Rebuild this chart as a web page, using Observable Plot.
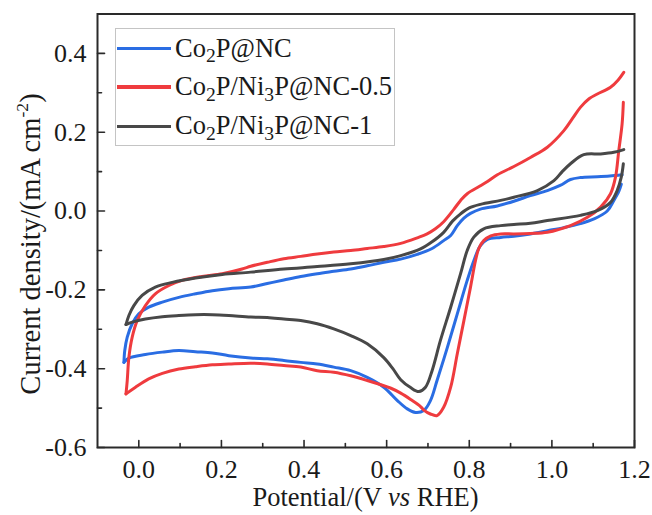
<!DOCTYPE html>
<html>
<head>
<meta charset="utf-8">
<script src="https://cdn.jsdelivr.net/npm/d3@7"></script>
<script src="https://cdn.jsdelivr.net/npm/@observablehq/plot@0.6"></script>
<style>
  body { margin: 0; background: #fff; }
  #wrap { position: relative; width: 652px; height: 515px; font-family: "Liberation Serif", "Times New Roman", serif; color: #1a1a1a; }
  #wrap svg { position: absolute; left: 0; top: 0; }
  .legend { position: absolute; left: 115px; top: 28px; width: 280px; height: 118px; border: 1px solid #c4c4c4; background: #fff; box-sizing: border-box; }
  .item { position: absolute; left: 0; height: 0; }
  .swatch { position: absolute; left: 1px; width: 54px; height: 3.5px; }
  .ltext { position: absolute; left: 59px; font-size: 26.5px; line-height: 1; white-space: nowrap; }
  .sb { font-size: 74%; position: relative; top: 0.3em; line-height: 0; }
  .xt { position: absolute; left: 97px; width: 537px; top: 488px; text-align: center; font-size: 26.5px; line-height: 18px; white-space: nowrap; }
  .yt { position: absolute; left: 31px; top: 244px; transform: translate(-50%, -50%) rotate(-90deg); font-size: 28.5px; line-height: 1; white-space: nowrap; }
  .yt sup { font-size: 62%; line-height: 0; position: relative; top: -0.1em; }
</style>
</head>
<body>
<div id="wrap"></div>
<script>
// ---- Data ----
const seriesNames = ["Co2P@NC", "Co2P/Ni3P@NC-0.5", "Co2P/Ni3P@NC-1"];
const seriesColors = ["#2a6de3", "#ef3b3e", "#484848"];

// Co2P@NC : potential (V vs RHE) / current density (mA cm-2); anodic (forward) and cathodic (reverse) scans
const co2pFwdPotential = [-0.036,-0.034,-0.028,-0.016,0.000,0.024,0.057,0.097,0.137,0.178,0.218,0.271,0.311,0.351,0.392,0.432,0.472,0.513,0.553,0.593,0.634,0.674,0.710,0.738,0.755,0.771,0.787,0.803,0.827,0.868,0.908,0.948,0.989,1.020,1.045,1.069,1.110,1.140,1.170];
const co2pFwdCurrent = [-0.384,-0.354,-0.320,-0.286,-0.261,-0.244,-0.231,-0.219,-0.210,-0.202,-0.197,-0.193,-0.184,-0.175,-0.166,-0.159,-0.153,-0.147,-0.139,-0.130,-0.122,-0.110,-0.095,-0.075,-0.062,-0.037,-0.018,-0.006,0.005,0.013,0.025,0.039,0.052,0.065,0.080,0.085,0.087,0.089,0.092];
const co2pRevPotential = [1.168,1.162,1.150,1.134,1.102,1.069,1.029,0.989,0.948,0.908,0.876,0.844,0.827,0.811,0.795,0.771,0.747,0.722,0.706,0.690,0.670,0.650,0.626,0.593,0.553,0.513,0.472,0.432,0.392,0.351,0.311,0.271,0.218,0.178,0.137,0.097,0.057,0.016,-0.024,-0.036];
const co2pRevCurrent = [0.068,0.050,0.027,0.000,-0.020,-0.032,-0.042,-0.050,-0.058,-0.064,-0.067,-0.072,-0.088,-0.126,-0.176,-0.261,-0.346,-0.430,-0.481,-0.506,-0.511,-0.502,-0.481,-0.447,-0.422,-0.405,-0.396,-0.388,-0.384,-0.379,-0.375,-0.373,-0.367,-0.360,-0.357,-0.354,-0.358,-0.364,-0.373,-0.384];

// Co2P/Ni3P@NC-0.5
const ni05FwdPotential = [-0.031,-0.028,-0.024,-0.016,-0.004,0.016,0.040,0.073,0.105,0.153,0.202,0.250,0.271,0.311,0.351,0.392,0.432,0.472,0.513,0.553,0.593,0.634,0.674,0.698,0.718,0.738,0.763,0.779,0.795,0.827,0.844,0.868,0.908,0.948,0.989,1.029,1.050,1.069,1.090,1.110,1.142,1.160,1.174];
const ni05FwdCurrent = [-0.464,-0.430,-0.371,-0.320,-0.278,-0.240,-0.210,-0.189,-0.176,-0.166,-0.159,-0.147,-0.140,-0.130,-0.121,-0.115,-0.109,-0.104,-0.100,-0.095,-0.090,-0.082,-0.068,-0.058,-0.045,-0.027,0.005,0.027,0.044,0.064,0.075,0.092,0.113,0.136,0.162,0.204,0.235,0.263,0.285,0.297,0.314,0.332,0.352];
const ni05RevPotential = [1.173,1.170,1.162,1.154,1.142,1.118,1.086,1.045,0.989,0.948,0.908,0.876,0.852,0.835,0.823,0.815,0.803,0.787,0.771,0.755,0.738,0.722,0.706,0.690,0.682,0.658,0.634,0.609,0.553,0.513,0.472,0.432,0.392,0.351,0.311,0.271,0.218,0.178,0.137,0.097,0.057,0.024,-0.008,-0.031];
const ni05RevCurrent = [0.276,0.221,0.154,0.086,0.044,0.010,-0.016,-0.037,-0.054,-0.057,-0.058,-0.058,-0.063,-0.075,-0.095,-0.126,-0.193,-0.278,-0.362,-0.447,-0.498,-0.519,-0.515,-0.505,-0.496,-0.478,-0.462,-0.449,-0.430,-0.418,-0.409,-0.405,-0.396,-0.392,-0.388,-0.386,-0.388,-0.390,-0.395,-0.401,-0.412,-0.426,-0.447,-0.464];

// Co2P/Ni3P@NC-1
const ni1FwdPotential = [-0.031,-0.024,-0.012,0.008,0.040,0.081,0.137,0.202,0.271,0.351,0.432,0.513,0.593,0.634,0.682,0.710,0.738,0.760,0.779,0.800,0.827,0.876,0.908,0.965,1.005,1.025,1.045,1.077,1.118,1.150,1.174];
const ni1FwdCurrent = [-0.288,-0.265,-0.240,-0.214,-0.193,-0.181,-0.170,-0.161,-0.155,-0.147,-0.141,-0.134,-0.123,-0.113,-0.096,-0.078,-0.054,-0.025,-0.007,0.008,0.017,0.027,0.035,0.052,0.077,0.100,0.120,0.143,0.145,0.149,0.156];
const ni1RevPotential = [1.173,1.168,1.158,1.142,1.110,1.069,0.989,0.948,0.908,0.876,0.835,0.811,0.795,0.779,0.755,0.730,0.710,0.694,0.678,0.658,0.634,0.615,0.593,0.553,0.513,0.472,0.432,0.392,0.351,0.311,0.271,0.218,0.178,0.137,0.097,0.057,0.016,-0.016,-0.031];
const ni1RevCurrent = [0.120,0.086,0.052,0.022,0.001,-0.011,-0.024,-0.031,-0.034,-0.037,-0.045,-0.066,-0.100,-0.159,-0.244,-0.329,-0.405,-0.447,-0.458,-0.448,-0.428,-0.400,-0.372,-0.337,-0.316,-0.299,-0.286,-0.278,-0.274,-0.270,-0.269,-0.265,-0.263,-0.263,-0.265,-0.268,-0.274,-0.282,-0.288];

// Axis ticks
const xMajorTicks = [0.0, 0.2, 0.4, 0.6, 0.8, 1.0, 1.2];
const xMinorTicks = [0.1, 0.3, 0.5, 0.7, 0.9, 1.1];
const yMajorTicks = [-0.6, -0.4, -0.2, 0.0, 0.2, 0.4];
const yMinorTicks = [-0.5, -0.3, -0.1, 0.1, 0.3];

// ---- Build table ----
const scans = [
  [0, "fwd", co2pFwdPotential, co2pFwdCurrent], [0, "rev", co2pRevPotential, co2pRevCurrent],
  [1, "fwd", ni05FwdPotential, ni05FwdCurrent], [1, "rev", ni05RevPotential, ni05RevCurrent],
  [2, "fwd", ni1FwdPotential, ni1FwdCurrent], [2, "rev", ni1RevPotential, ni1RevCurrent]
];
const rows = [];
scans.forEach(([k, branch, xs, ys]) => {
  xs.forEach((x, i) => rows.push({series: seriesNames[k], branch, potential: x, current: ys[i]}));
});

const tickShape = {draw(context, l) { context.moveTo(0, 0); context.lineTo(0, -l); }};
const fmt = d => d.toFixed(1);

const chart = Plot.plot({
  width: 652,
  height: 515,
  marginLeft: 97,
  marginRight: 18,
  marginTop: 13.5,
  marginBottom: 68,
  x: {domain: [-0.1, 1.2]},
  y: {domain: [-0.6, 0.5]},
  color: {domain: seriesNames, range: seriesColors},
  style: {fontFamily: '"Liberation Serif", "Times New Roman", serif', fontSize: "26px", color: "#1a1a1a", background: "#fff", overflow: "visible"},
  marks: [
    Plot.line(rows, {x: "potential", y: "current", z: d => d.series + "|" + d.branch, stroke: "series", strokeWidth: 3, curve: "catmull-rom", strokeLinejoin: "round", strokeLinecap: "round"}),
    Plot.frame({stroke: "#2a2a2a", strokeWidth: 2}),
    Plot.axisX(xMajorTicks, {tickSize: 0, tickPadding: 12, tickFormat: fmt, label: null, fontSize: 26}),
    Plot.axisY(yMajorTicks, {tickSize: 0, tickPadding: 11, tickFormat: fmt, label: null, fontSize: 26}),
    Plot.vector(xMajorTicks, {x: d => d, frameAnchor: "bottom", length: 7, anchor: "start", shape: tickShape, stroke: "#2a2a2a", strokeWidth: 1.6}),
    Plot.vector(xMinorTicks, {x: d => d, frameAnchor: "bottom", length: 4, anchor: "start", shape: tickShape, stroke: "#2a2a2a", strokeWidth: 1.6}),
    Plot.vector(yMajorTicks, {y: d => d, frameAnchor: "left", length: 7, anchor: "start", rotate: 90, shape: tickShape, stroke: "#2a2a2a", strokeWidth: 1.6}),
    Plot.vector(yMinorTicks, {y: d => d, frameAnchor: "left", length: 4, anchor: "start", rotate: 90, shape: tickShape, stroke: "#2a2a2a", strokeWidth: 1.6})
  ]
});

const wrap = document.getElementById("wrap");
wrap.appendChild(chart);

// Legend (inside the plot frame)
const legendLabels = [
  'Co<span class="sb">2</span>P@NC',
  'Co<span class="sb">2</span>P/Ni<span class="sb">3</span>P@NC-0.5',
  'Co<span class="sb">2</span>P/Ni<span class="sb">3</span>P@NC-1'
];
const legend = document.createElement("div");
legend.className = "legend";
const rowYs = [19.5, 58, 97.3];
legendLabels.forEach((html, k) => {
  const item = document.createElement("div");
  item.className = "item";
  item.style.top = rowYs[k] + "px";
  item.innerHTML = `<div class="swatch" style="background:${seriesColors[k]};top:-1.75px"></div><div class="ltext" style="top:-14px">${html}</div>`;
  legend.appendChild(item);
});
wrap.appendChild(legend);

const xt = document.createElement("div");
xt.className = "xt";
xt.innerHTML = 'Potential/(V <i>vs</i> RHE)';
wrap.appendChild(xt);

const yt = document.createElement("div");
yt.className = "yt";
yt.innerHTML = 'Current density/(mA cm<sup>-2</sup>)';
wrap.appendChild(yt);
</script>
</body>
</html>
